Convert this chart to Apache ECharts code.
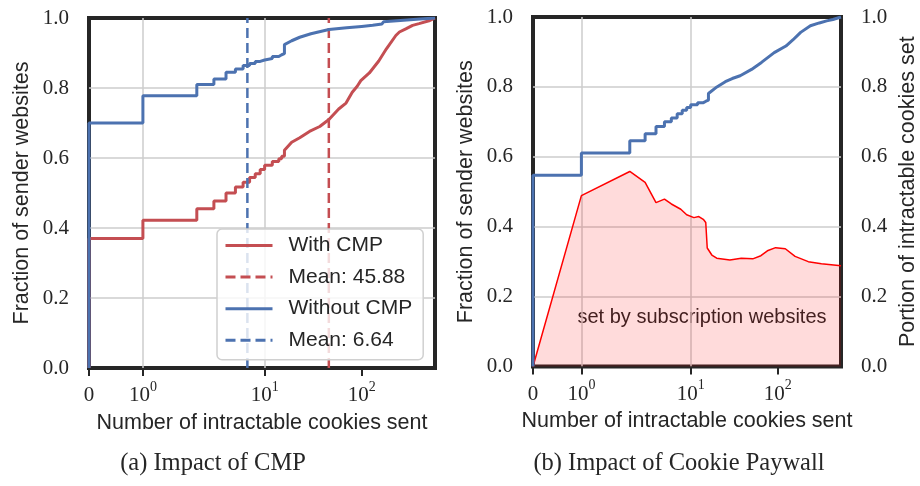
<!DOCTYPE html>
<html><head><meta charset="utf-8">
<script src="https://cdn.jsdelivr.net/npm/echarts@6/dist/echarts.min.js"></script>
<style>html,body{margin:0;padding:0;background:#fff}#c{width:920px;height:486px}</style>
</head><body><div id="c"></div>
<script>
// ---------- data ----------
// (a) Impact of CMP : ECDF of intractable cookies sent
const cmpX   = [0,1,2,3,4,5,6,7,8,9,10,12,14,15,16,19,23,29,37,46,58,69,80,90,98,120,150,180,225,245,285,335,390,495,570];
const cmpY   = [0.370,0.422,0.455,0.477,0.500,0.517,0.531,0.544,0.555,0.567,0.579,0.590,0.598,0.605,0.622,0.645,0.658,0.676,0.690,0.710,0.740,0.757,0.788,0.805,0.821,0.843,0.877,0.912,0.950,0.960,0.969,0.979,0.984,0.992,1.0];
const noCmpX = [0,1,2,3,4,5,6,7,8,9,10,12,14,15,16,19,23,30,46,70,100,130,162,168,250,400,570];
const noCmpY = [0.700,0.778,0.810,0.826,0.845,0.854,0.864,0.870,0.876,0.880,0.884,0.890,0.895,0.898,0.924,0.935,0.945,0.955,0.967,0.972,0.976,0.979,0.983,0.989,0.993,0.997,1.0];
const meanCmp = 45.88;
const meanNoCmp = 6.64;
// (b) Impact of Cookie Paywall
const paywallX = [0,1,2,3,4,5,6,7,8,9,10,12,14,15,16,20,25,30,37,50,65,91,124,150,183,237,300,364,430,532];
const paywallY = [0.547,0.611,0.646,0.666,0.687,0.700,0.711,0.723,0.733,0.741,0.749,0.755,0.759,0.762,0.781,0.800,0.815,0.824,0.832,0.850,0.870,0.898,0.917,0.935,0.956,0.975,0.983,0.989,0.993,1.0];
const portionX = [0,1,2,3,4,5,6,7.7,9,10.9,12.4,14.1,14.9,15.5,17.5,19.9,28.2,38.1,51.6,64,76,94.5,122,158,224,317,532];
const portionY = [0,0.489,0.558,0.527,0.469,0.479,0.465,0.450,0.434,0.426,0.429,0.420,0.412,0.339,0.319,0.310,0.305,0.310,0.308,0.317,0.331,0.340,0.337,0.315,0.300,0.294,0.288];
const xMaxA = 570, xMaxB = 532;
const xTickValues = [0,1,10,100];
const xTickLabels = ['0','10^0','10^1','10^2'];
const yTickLabels = ['0.0','0.2','0.4','0.6','0.8','1.0'];
const STEP_MAX = 16; // ECDF drawn as steps up to here

// ---------- helpers ----------
const INK='#262626', RED='#c44e52', BLUE='#4c72b0', GRID='#cccccc';
const SERIF='"Liberation Serif","DejaVu Serif",serif';
const SANS='"Liberation Sans","DejaVu Sans",sans-serif';
const LINTHRESH=2, LINSCALE=1, LS_ADJ=LINSCALE/(1-1/10);
function T(x){ return x<=LINTHRESH ? x*LS_ADJ : LINTHRESH*(LS_ADJ+Math.log10(x/LINTHRESH)); }
function ecdf(xs, ys){
  const out=[[T(xs[0]),0]];
  for(let i=0;i<xs.length;i++){
    if(i>0 && xs[i]<=STEP_MAX) out.push([T(xs[i]), ys[i-1]]);
    out.push([T(xs[i]), ys[i]]);
  }
  return out;
}
const xTickT = xTickValues.map(T);
function xFmt(v){
  const i = xTickT.findIndex(t=>Math.abs(t-v)<1e-6);
  if(i<0) return '';
  const s = xTickLabels[i];
  if(s.indexOf('^')<0) return '{b|'+s+'}';
  const p = s.split('^');
  return '{b|'+p[0]+'}{s|'+p[1]+'}';
}
function xAxisCfg(g, xmax){
  return {type:'value', gridIndex:g, min:0, max:T(xmax),
    name:'Number of intractable cookies sent', nameLocation:'middle', nameGap:44,
    nameTextStyle:{fontFamily:SANS, fontSize:21.5, color:INK},
    axisLine:{show:false},
    axisTick:{show:true, length:8, lineStyle:{color:INK, width:2}, customValues:xTickT},
    axisLabel:{customValues:xTickT, formatter:xFmt, margin:12, color:INK,
      rich:{b:{fontFamily:SERIF, fontSize:21, color:INK, lineHeight:26, verticalAlign:'bottom'},
            s:{fontFamily:SERIF, fontSize:14, color:INK, lineHeight:26, verticalAlign:'top'}}},
    splitLine:{show:true, showMinLine:false, showMaxLine:false, lineStyle:{color:GRID, width:1.5}}
  };
}
function yAxisCfg(g, name, pos, gap, split){
  return {type:'value', gridIndex:g, min:0, max:1, interval:0.2, position:pos,
    name:name, nameLocation:'middle', nameGap:gap, nameRotate:90,
    nameTextStyle:{fontFamily:SANS, fontSize:21.5, color:INK},
    axisLine:{show:false}, axisTick:{show:false},
    axisLabel:{formatter:v=>yTickLabels[Math.round(v*5)], margin:20, fontFamily:SERIF, fontSize:21, color:INK},
    splitLine:{show:split, showMinLine:false, showMaxLine:false, lineStyle:{color:GRID, width:1.5}}
  };
}
const nameMeanCmp = 'Mean: '+meanCmp.toFixed(2);
const nameMeanNo = 'Mean: '+meanNoCmp.toFixed(2);

const chart = echarts.init(document.getElementById('c'), null, {renderer:'canvas'});
chart.setOption({
  animation:false,
  backgroundColor:'#ffffff',
  grid:[
    {left:89, top:18, width:346, height:350, show:true, borderColor:INK, borderWidth:4, backgroundColor:'transparent'},
    {left:533, top:17, width:314, height:349.5, show:true, borderColor:INK, borderWidth:4, backgroundColor:'transparent'}
  ],
  xAxis:[xAxisCfg(0,xMaxA), xAxisCfg(1,xMaxB)],
  yAxis:[
    yAxisCfg(0,'Fraction of sender websites','left',56,true),
    yAxisCfg(1,'Fraction of sender websites','left',56,true),
    yAxisCfg(1,'Portion of intractable cookies set','right',56,false)
  ],
  legend:{
    data:['With CMP', nameMeanCmp, 'Without CMP', nameMeanNo],
    orient:'vertical', left:217, top:229, itemWidth:47, itemHeight:20, itemGap:10.6,
    padding:[6,11,9,7], backgroundColor:'rgba(255,255,255,0.8)', borderColor:'#d0d0d0',
    borderWidth:1.5, borderRadius:5, selectedMode:false,
    itemStyle:{color:'rgba(0,0,0,0)', borderWidth:0, opacity:0},
    lineStyle:{width:3},
    textStyle:{fontFamily:SANS, fontSize:21, color:INK, padding:[0,0,0,11]}
  },
  series:[
    {name:'With CMP', type:'line', xAxisIndex:0, yAxisIndex:0, data:ecdf(cmpX,cmpY), symbol:'none',
     color:RED, lineStyle:{color:RED, width:3}},
    {name:nameMeanCmp, type:'line', xAxisIndex:0, yAxisIndex:0, data:[[T(meanCmp),0],[T(meanCmp),1]], symbol:'none',
     color:RED, lineStyle:{color:RED, width:2.5, type:[10,5]}},
    {name:'Without CMP', type:'line', xAxisIndex:0, yAxisIndex:0, data:ecdf(noCmpX,noCmpY), symbol:'none',
     color:BLUE, lineStyle:{color:BLUE, width:3}},
    {name:nameMeanNo, type:'line', xAxisIndex:0, yAxisIndex:0, data:[[T(meanNoCmp),0],[T(meanNoCmp),1]], symbol:'none',
     color:BLUE, lineStyle:{color:BLUE, width:2.5, type:[10,5]}},
    {name:'portion', type:'line', xAxisIndex:1, yAxisIndex:2, data:portionX.map((x,i)=>[T(x),portionY[i]]), symbol:'none',
     color:'#ff0000', lineStyle:{color:'#ff0000', width:1.5}, areaStyle:{color:'rgba(255,0,0,0.2)'}, z:1},
    {name:'paywall', type:'line', xAxisIndex:1, yAxisIndex:1, data:ecdf(paywallX,paywallY), symbol:'none',
     color:BLUE, lineStyle:{color:BLUE, width:3}, z:3}
  ],
  graphic:[
    {type:'text', style:{text:'set by subscription websites', x:702, y:317, align:'center', verticalAlign:'middle', font:'20px '+SANS, fill:INK}},
    {type:'text', style:{text:'(a) Impact of CMP', x:213, y:464, align:'center', verticalAlign:'middle', font:'24.5px '+SERIF, fill:INK}},
    {type:'text', style:{text:'(b) Impact of Cookie Paywall', x:679, y:464, align:'center', verticalAlign:'middle', font:'24.5px '+SERIF, fill:INK}}
  ]
});
</script></body></html>
